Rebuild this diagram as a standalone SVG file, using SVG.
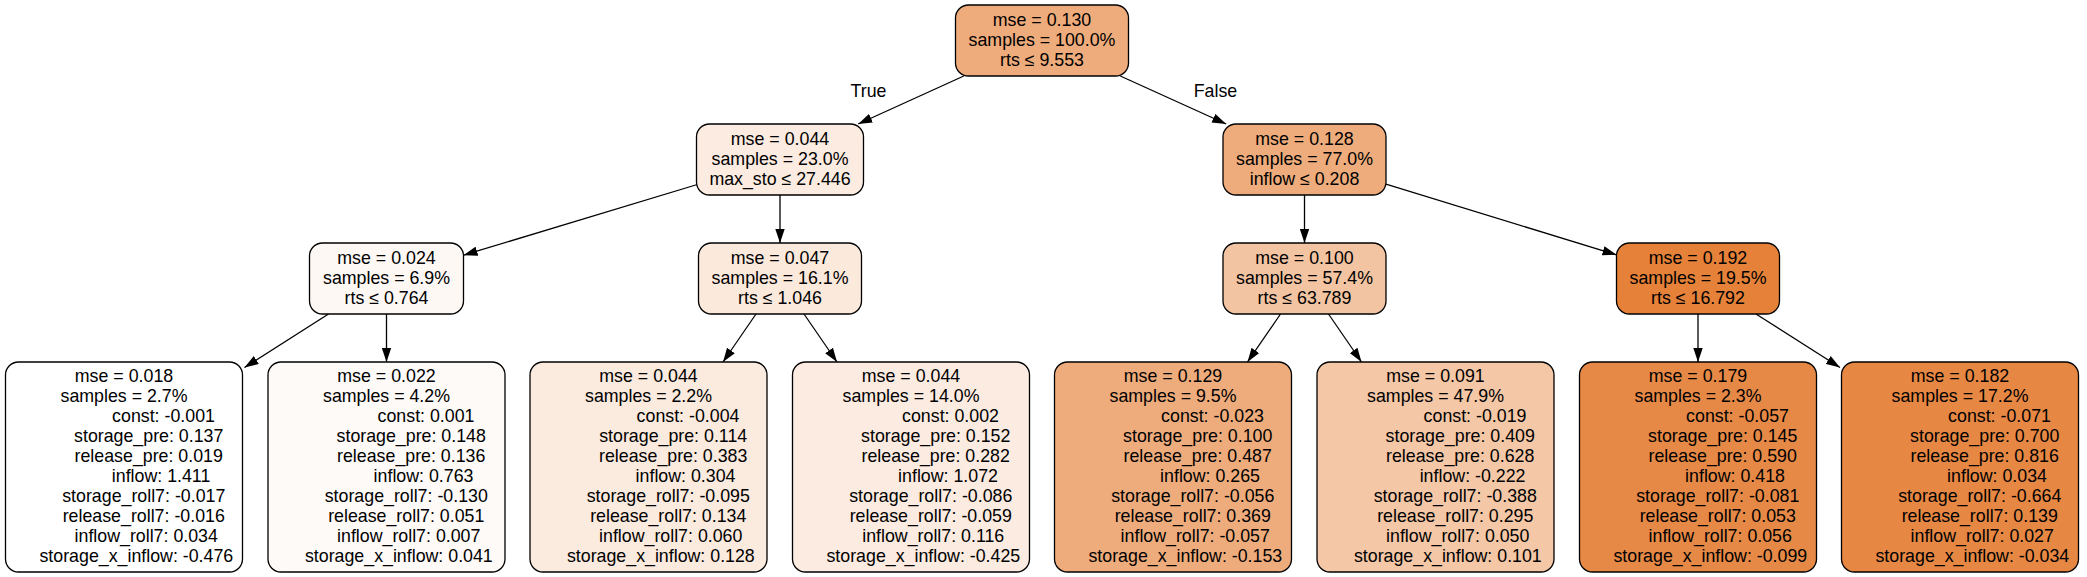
<svg xmlns="http://www.w3.org/2000/svg" width="2087" height="577" viewBox="0 0 2087 577">
<style>
.n rect{stroke:#000;stroke-width:1.3}
text{font-family:"Liberation Sans",Arial,Helvetica,sans-serif;font-size:17.8px;fill:#000;text-anchor:middle}
.lf text{white-space:pre}
.e line{stroke:#000;stroke-width:1.3;fill:none;marker-end:url(#ah)}
</style>
<defs>
<marker id="ah" markerUnits="userSpaceOnUse" viewBox="0 0 14 10" markerWidth="14" markerHeight="10" refX="14" refY="5" orient="auto"><path d="M0,0.3 L14,5 L0,9.7 z" fill="#000"/></marker>
</defs>
<rect width="2087" height="577" fill="#fff"/>
<g id="edges" class="e">
<line x1="963.8" y1="76" x2="858.2" y2="124"/>
<line x1="1120.3" y1="76" x2="1226.2" y2="124"/>
<line x1="696.5" y1="184.75" x2="463.5" y2="255.2"/>
<line x1="780" y1="195" x2="780" y2="243"/>
<line x1="1304.5" y1="195" x2="1304.5" y2="243"/>
<line x1="1386" y1="184.15" x2="1616.5" y2="254.85"/>
<line x1="328.5" y1="314" x2="244.5" y2="367.5"/>
<line x1="386.5" y1="314" x2="386.5" y2="362"/>
<line x1="756" y1="314" x2="723" y2="362"/>
<line x1="804" y1="314" x2="837" y2="362"/>
<line x1="1280.5" y1="314" x2="1247.5" y2="362"/>
<line x1="1328.5" y1="314" x2="1361.5" y2="362"/>
<line x1="1698" y1="314" x2="1698" y2="362"/>
<line x1="1756" y1="314" x2="1840" y2="367.5"/>
</g>
<g id="edge-labels">
<text x="868.5" y="97">True</text>
<text x="1215.5" y="97">False</text>
</g>
<g id="node0" class="n"><rect x="955.5" y="5" width="173" height="71" rx="13" fill="#eeac7c"/>
<text x="1042" y="25.5">mse = 0.130</text><text x="1042" y="45.5">samples = 100.0%</text><text x="1042" y="65.5">rts ≤ 9.553</text></g>
<g id="node1" class="n"><rect x="696.5" y="124" width="167" height="71" rx="13" fill="#fbebe0"/>
<text x="780" y="144.5">mse = 0.044</text><text x="780" y="164.5">samples = 23.0%</text><text x="780" y="184.5">max_sto ≤ 27.446</text></g>
<g id="node8" class="n"><rect x="1223" y="124" width="163" height="71" rx="13" fill="#eeac7c"/>
<text x="1304.5" y="144.5">mse = 0.128</text><text x="1304.5" y="164.5">samples = 77.0%</text><text x="1304.5" y="184.5">inflow ≤ 0.208</text></g>
<g id="node2" class="n"><rect x="309.5" y="243" width="154" height="71" rx="13" fill="#fef8f4"/>
<text x="386.5" y="263.5">mse = 0.024</text><text x="386.5" y="283.5">samples = 6.9%</text><text x="386.5" y="303.5">rts ≤ 0.764</text></g>
<g id="node5" class="n"><rect x="698.5" y="243" width="163" height="71" rx="13" fill="#fbe9dc"/>
<text x="780" y="263.5">mse = 0.047</text><text x="780" y="283.5">samples = 16.1%</text><text x="780" y="303.5">rts ≤ 1.046</text></g>
<g id="node9" class="n"><rect x="1223" y="243" width="163" height="71" rx="13" fill="#f3c4a2"/>
<text x="1304.5" y="263.5">mse = 0.100</text><text x="1304.5" y="283.5">samples = 57.4%</text><text x="1304.5" y="303.5">rts ≤ 63.789</text></g>
<g id="node12" class="n"><rect x="1616.5" y="243" width="163" height="71" rx="13" fill="#e58139"/>
<text x="1698" y="263.5">mse = 0.192</text><text x="1698" y="283.5">samples = 19.5%</text><text x="1698" y="303.5">rts ≤ 16.792</text></g>
<g id="node3" class="n lf"><rect x="5.5" y="362" width="237" height="210" rx="13" fill="#ffffff"/><text x="124" y="381.5">mse = 0.018</text><text x="124" y="401.5">samples = 2.7%</text><text xml:space="preserve" x="124" y="421.5">                const: -0.001</text><text xml:space="preserve" x="124" y="441.5">          storage_pre: 0.137</text><text xml:space="preserve" x="124" y="461.5">          release_pre: 0.019</text><text xml:space="preserve" x="124" y="481.5">               inflow: 1.411</text><text xml:space="preserve" x="124" y="501.5">        storage_roll7: -0.017</text><text xml:space="preserve" x="124" y="521.5">        release_roll7: -0.016</text><text xml:space="preserve" x="124" y="541.5">         inflow_roll7: 0.034</text><text xml:space="preserve" x="124" y="561.5">     storage_x_inflow: -0.476</text></g>
<g id="node4" class="n lf"><rect x="268" y="362" width="237" height="210" rx="13" fill="#fefaf7"/><text x="386.5" y="381.5">mse = 0.022</text><text x="386.5" y="401.5">samples = 4.2%</text><text xml:space="preserve" x="386.5" y="421.5">                const: 0.001</text><text xml:space="preserve" x="386.5" y="441.5">          storage_pre: 0.148</text><text xml:space="preserve" x="386.5" y="461.5">          release_pre: 0.136</text><text xml:space="preserve" x="386.5" y="481.5">               inflow: 0.763</text><text xml:space="preserve" x="386.5" y="501.5">        storage_roll7: -0.130</text><text xml:space="preserve" x="386.5" y="521.5">        release_roll7: 0.051</text><text xml:space="preserve" x="386.5" y="541.5">         inflow_roll7: 0.007</text><text xml:space="preserve" x="386.5" y="561.5">     storage_x_inflow: 0.041</text></g>
<g id="node6" class="n lf"><rect x="530" y="362" width="237" height="210" rx="13" fill="#fbeade"/><text x="648.5" y="381.5">mse = 0.044</text><text x="648.5" y="401.5">samples = 2.2%</text><text xml:space="preserve" x="648.5" y="421.5">                const: -0.004</text><text xml:space="preserve" x="648.5" y="441.5">          storage_pre: 0.114</text><text xml:space="preserve" x="648.5" y="461.5">          release_pre: 0.383</text><text xml:space="preserve" x="648.5" y="481.5">               inflow: 0.304</text><text xml:space="preserve" x="648.5" y="501.5">        storage_roll7: -0.095</text><text xml:space="preserve" x="648.5" y="521.5">        release_roll7: 0.134</text><text xml:space="preserve" x="648.5" y="541.5">         inflow_roll7: 0.060</text><text xml:space="preserve" x="648.5" y="561.5">     storage_x_inflow: 0.128</text></g>
<g id="node7" class="n lf"><rect x="792.5" y="362" width="237" height="210" rx="13" fill="#fbebe0"/><text x="911" y="381.5">mse = 0.044</text><text x="911" y="401.5">samples = 14.0%</text><text xml:space="preserve" x="911" y="421.5">                const: 0.002</text><text xml:space="preserve" x="911" y="441.5">          storage_pre: 0.152</text><text xml:space="preserve" x="911" y="461.5">          release_pre: 0.282</text><text xml:space="preserve" x="911" y="481.5">               inflow: 1.072</text><text xml:space="preserve" x="911" y="501.5">        storage_roll7: -0.086</text><text xml:space="preserve" x="911" y="521.5">        release_roll7: -0.059</text><text xml:space="preserve" x="911" y="541.5">         inflow_roll7: 0.116</text><text xml:space="preserve" x="911" y="561.5">     storage_x_inflow: -0.425</text></g>
<g id="node10" class="n lf"><rect x="1054.5" y="362" width="237" height="210" rx="13" fill="#eeac7c"/><text x="1173" y="381.5">mse = 0.129</text><text x="1173" y="401.5">samples = 9.5%</text><text xml:space="preserve" x="1173" y="421.5">                const: -0.023</text><text xml:space="preserve" x="1173" y="441.5">          storage_pre: 0.100</text><text xml:space="preserve" x="1173" y="461.5">          release_pre: 0.487</text><text xml:space="preserve" x="1173" y="481.5">               inflow: 0.265</text><text xml:space="preserve" x="1173" y="501.5">        storage_roll7: -0.056</text><text xml:space="preserve" x="1173" y="521.5">        release_roll7: 0.369</text><text xml:space="preserve" x="1173" y="541.5">         inflow_roll7: -0.057</text><text xml:space="preserve" x="1173" y="561.5">     storage_x_inflow: -0.153</text></g>
<g id="node11" class="n lf"><rect x="1317" y="362" width="237" height="210" rx="13" fill="#f4c7a6"/><text x="1435.5" y="381.5">mse = 0.091</text><text x="1435.5" y="401.5">samples = 47.9%</text><text xml:space="preserve" x="1435.5" y="421.5">                const: -0.019</text><text xml:space="preserve" x="1435.5" y="441.5">          storage_pre: 0.409</text><text xml:space="preserve" x="1435.5" y="461.5">          release_pre: 0.628</text><text xml:space="preserve" x="1435.5" y="481.5">               inflow: -0.222</text><text xml:space="preserve" x="1435.5" y="501.5">        storage_roll7: -0.388</text><text xml:space="preserve" x="1435.5" y="521.5">        release_roll7: 0.295</text><text xml:space="preserve" x="1435.5" y="541.5">         inflow_roll7: 0.050</text><text xml:space="preserve" x="1435.5" y="561.5">     storage_x_inflow: 0.101</text></g>
<g id="node13" class="n lf"><rect x="1579.5" y="362" width="237" height="210" rx="13" fill="#e68946"/><text x="1698" y="381.5">mse = 0.179</text><text x="1698" y="401.5">samples = 2.3%</text><text xml:space="preserve" x="1698" y="421.5">                const: -0.057</text><text xml:space="preserve" x="1698" y="441.5">          storage_pre: 0.145</text><text xml:space="preserve" x="1698" y="461.5">          release_pre: 0.590</text><text xml:space="preserve" x="1698" y="481.5">               inflow: 0.418</text><text xml:space="preserve" x="1698" y="501.5">        storage_roll7: -0.081</text><text xml:space="preserve" x="1698" y="521.5">        release_roll7: 0.053</text><text xml:space="preserve" x="1698" y="541.5">         inflow_roll7: 0.056</text><text xml:space="preserve" x="1698" y="561.5">     storage_x_inflow: -0.099</text></g>
<g id="node14" class="n lf"><rect x="1841.5" y="362" width="237" height="210" rx="13" fill="#e68743"/><text x="1960" y="381.5">mse = 0.182</text><text x="1960" y="401.5">samples = 17.2%</text><text xml:space="preserve" x="1960" y="421.5">                const: -0.071</text><text xml:space="preserve" x="1960" y="441.5">          storage_pre: 0.700</text><text xml:space="preserve" x="1960" y="461.5">          release_pre: 0.816</text><text xml:space="preserve" x="1960" y="481.5">               inflow: 0.034</text><text xml:space="preserve" x="1960" y="501.5">        storage_roll7: -0.664</text><text xml:space="preserve" x="1960" y="521.5">        release_roll7: 0.139</text><text xml:space="preserve" x="1960" y="541.5">         inflow_roll7: 0.027</text><text xml:space="preserve" x="1960" y="561.5">     storage_x_inflow: -0.034</text></g>
</svg>
